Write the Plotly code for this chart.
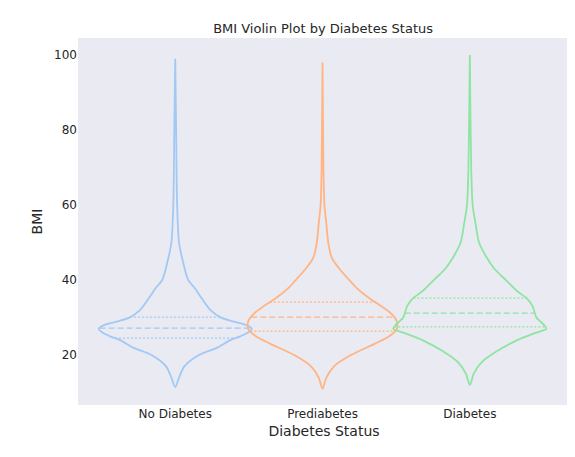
import numpy as np
import plotly.graph_objects as go

categories = ["No Diabetes", "Prediabetes", "Diabetes"]
colors = ["#a1c9f4", "#ffb482", "#8de5a1"]

# violin outlines: BMI value -> relative half width (0..1)
bmi_no = [11.5, 14, 17, 20, 22, 24, 25, 26, 27, 28, 29, 30, 32, 35, 38, 40, 45, 50, 60, 80, 99]
w_no = [0, 0.05, 0.12, 0.31, 0.55, 0.72, 0.85, 0.95, 1.0, 0.93, 0.75, 0.6, 0.46, 0.35, 0.25, 0.17, 0.1, 0.05, 0.025, 0.012, 0]
bmi_pre = [11, 14, 17, 20, 23, 25, 27, 29, 31, 33, 35, 38, 40, 43, 46, 50, 55, 60, 70, 98]
w_pre = [0, 0.05, 0.15, 0.37, 0.68, 0.87, 0.97, 0.97, 0.9, 0.77, 0.62, 0.44, 0.35, 0.22, 0.12, 0.075, 0.05, 0.025, 0.012, 0]
bmi_dia = [12, 15, 18, 21, 24, 26, 27, 28, 30, 33, 35, 37, 40, 43, 46, 50, 55, 60, 70, 100]
w_dia = [0, 0.05, 0.15, 0.35, 0.62, 0.87, 1.0, 0.97, 0.87, 0.82, 0.75, 0.62, 0.47, 0.32, 0.22, 0.12, 0.075, 0.037, 0.018, 0]
quartiles = [[24.5, 27.2, 30.1], [26.4, 30.1, 34.1], [27.5, 31.2, 35.2]]

profiles = [(bmi_no, w_no), (bmi_pre, w_pre), (bmi_dia, w_dia)]
max_half = 0.52

fig = go.Figure()
for i, ((ys, ws), q, c) in enumerate(zip(profiles, quartiles, colors)):
    ys = np.array(ys, float)
    ws = np.array(ws, float) * max_half
    x = np.concatenate([i - ws, (i + ws)[::-1]])
    y = np.concatenate([ys, ys[::-1]])
    fig.add_trace(go.Scatter(x=x, y=y, mode="lines", line=dict(color=c, width=1.8, shape="spline", smoothing=0.8),
                             hoverinfo="skip", showlegend=False))
    for k, qv in enumerate(q):
        hw = np.interp(qv, ys, ws)
        fig.add_trace(go.Scatter(x=[i - hw, i + hw], y=[qv, qv], mode="lines",
                                 line=dict(color=c, width=1.3, dash="6px,3px" if k == 1 else "2px,2px"),
                                 hoverinfo="skip", showlegend=False))

font = "DejaVu Sans, sans-serif"
fig.update_layout(
    width=575, height=457, margin=dict(l=70, r=13, t=30, b=60, autoexpand=False),
    paper_bgcolor="white", plot_bgcolor="#eaeaf2",
    font=dict(family=font, size=12, color="#262626"),
    title=dict(text="BMI Violin Plot by Diabetes Status", x=0.548, y=0.965, xanchor="center", font=dict(size=13)),
)
fig.update_xaxes(range=[-0.66, 2.68], tickvals=[0, 1, 2], ticktext=categories, showgrid=False, zeroline=False,
                 title=dict(text="Diabetes Status", font=dict(size=14), standoff=6), ticks="", showline=False,
                 automargin=False)
fig.update_yaxes(range=[6.7, 104.5], tickvals=[20, 40, 60, 80, 100], showgrid=False, zeroline=False,
                 title=dict(text="BMI", font=dict(size=14), standoff=8), ticks="", showline=False,
                 automargin=False)
fig.write_html("out.html")
